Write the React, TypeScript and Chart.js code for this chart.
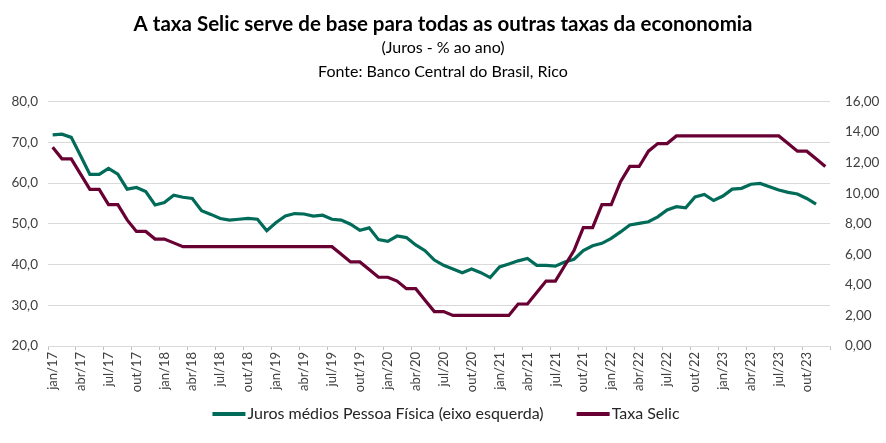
import React, { useEffect, useRef } from 'react';
import { Chart, registerables } from 'chart.js';

Chart.register(...registerables);

const MONTHS = ['jan', 'fev', 'mar', 'abr', 'mai', 'jun', 'jul', 'ago', 'set', 'out', 'nov', 'dez'];
const YEARS = ['17', '18', '19', '20', '21', '22', '23'];
const CATEGORIES = YEARS.flatMap((y) => MONTHS.map((m) => `${m}/${y}`));

const TITLE = 'A taxa Selic serve de base para todas as outras taxas da econonomia';
const SUBTITLE = ['(Juros - % ao ano)', 'Fonte: Banco Central do Brasil, Rico'];

const SERIES_JUROS_LABEL = 'Juros médios Pessoa Física (eixo esquerda)';
const SERIES_SELIC_LABEL = 'Taxa Selic';

// Juros médios Pessoa Física (% a.a., left axis), jan/17 .. nov/23
const JUROS_PF = [
  71.8, 72.0, 71.2, 66.7, 62.1, 62.1, 63.6, 62.2, 58.5, 58.9, 57.9, 54.6,
  55.2, 57.0, 56.5, 56.2, 53.2, 52.3, 51.3, 50.9, 51.1, 51.3, 51.1, 48.3,
  50.3, 51.9, 52.5, 52.4, 51.9, 52.1, 51.1, 50.9, 49.9, 48.4, 49.0, 46.1,
  45.7, 47.0, 46.6, 44.8, 43.4, 41.1, 39.8, 38.9, 38.0, 38.9, 38.0, 36.8,
  39.4, 40.1, 40.9, 41.5, 39.8, 39.8, 39.6, 40.6, 41.3, 43.4, 44.6, 45.2,
  46.4, 48.0, 49.7, 50.1, 50.5, 51.7, 53.4, 54.2, 53.9, 56.6, 57.2, 55.7,
  56.8, 58.5, 58.7, 59.7, 59.9, 59.1, 58.3, 57.7, 57.3, 56.2, 54.8, null,
];

// Taxa Selic (% a.a., right axis), jan/17 .. dez/23
const SELIC = [
  13.0, 12.25, 12.25, 11.25, 10.25, 10.25, 9.25, 9.25, 8.25, 7.5, 7.5, 7.0,
  7.0, 6.75, 6.5, 6.5, 6.5, 6.5, 6.5, 6.5, 6.5, 6.5, 6.5, 6.5,
  6.5, 6.5, 6.5, 6.5, 6.5, 6.5, 6.5, 6.0, 5.5, 5.5, 5.0, 4.5,
  4.5, 4.25, 3.75, 3.75, 3.0, 2.25, 2.25, 2.0, 2.0, 2.0, 2.0, 2.0,
  2.0, 2.0, 2.75, 2.75, 3.5, 4.25, 4.25, 5.25, 6.25, 7.75, 7.75, 9.25,
  9.25, 10.75, 11.75, 11.75, 12.75, 13.25, 13.25, 13.75, 13.75, 13.75, 13.75, 13.75,
  13.75, 13.75, 13.75, 13.75, 13.75, 13.75, 13.75, 13.25, 12.75, 12.75, 12.25, 11.75,
];

const LEFT_MIN = 20;
const LEFT_MAX = 80;
const LEFT_STEP = 10;
const RIGHT_MIN = 0;
const RIGHT_MAX = 16;
const RIGHT_STEP = 2;

const GREEN = '#006B58';
const PURPLE = '#680034';
const FONT = 'Lato, "Open Sans", "DejaVu Sans", sans-serif';

// Excel-style legend: short thick line, tight gap to text, wide gap between entries
const bottomLegend = {
  id: 'bottomLegend',
  afterDraw(chart: any) {
    const ctx = chart.ctx;
    const lineLen = 33;
    const textGap = 2;
    const itemGap = 33;
    ctx.save();
    ctx.font = `16px ${FONT}`;
    const items = chart.data.datasets.map((ds: any) => ({
      text: ds.label as string,
      color: ds.borderColor as string,
    }));
    const widths = items.map((it: any) => lineLen + textGap + ctx.measureText(it.text).width);
    const total = widths.reduce((a: number, b: number) => a + b, 0) + itemGap * (items.length - 1);
    let x = chart.width / 2 + 3 - total / 2;
    const y = chart.chartArea.bottom + 68;
    items.forEach((it: any, i: number) => {
      ctx.strokeStyle = it.color;
      ctx.lineWidth = 4;
      ctx.beginPath();
      ctx.moveTo(x, y);
      ctx.lineTo(x + lineLen, y);
      ctx.stroke();
      ctx.fillStyle = '#262626';
      ctx.textAlign = 'left';
      ctx.textBaseline = 'middle';
      ctx.fillText(it.text, x + lineLen + textGap, y);
      x += widths[i] + itemGap;
    });
    ctx.restore();
  },
};

export default function App() {
  const canvasRef = useRef<HTMLCanvasElement | null>(null);

  useEffect(() => {
    document.body.style.margin = '0';
    const canvas = canvasRef.current;
    if (!canvas) return;
    const chart = new Chart(canvas, {
      type: 'line',
      data: {
        labels: CATEGORIES,
        datasets: [
          {
            label: SERIES_JUROS_LABEL,
            data: JUROS_PF,
            yAxisID: 'y',
            borderColor: GREEN,
            backgroundColor: GREEN,
            borderWidth: 3.2,
            pointRadius: 0,
            tension: 0,
            order: 1,
          },
          {
            label: SERIES_SELIC_LABEL,
            data: SELIC,
            yAxisID: 'y1',
            borderColor: PURPLE,
            backgroundColor: PURPLE,
            borderWidth: 3.2,
            pointRadius: 0,
            tension: 0,
            order: 0,
          },
        ],
      },
      plugins: [bottomLegend],
      options: {
        animation: false,
        responsive: false,
        maintainAspectRatio: false,
        layout: { padding: { left: 0, right: 0, top: 0, bottom: 47 } },
        plugins: {
          title: {
            display: true,
            text: TITLE,
            color: '#000000',
            font: { family: FONT, size: 20.5, weight: 'bold', lineHeight: 1.05 },
            padding: { top: 14, bottom: 0 },
          },
          subtitle: {
            display: true,
            text: SUBTITLE,
            color: '#000000',
            font: { family: FONT, size: 16, lineHeight: 1.5 },
            padding: { top: 0, bottom: 18 },
          },
          legend: { display: false },
          tooltip: { enabled: false },
        },
        scales: {
          x: {
            type: 'category',
            offset: true,
            grid: {
              offset: true,
              drawOnChartArea: false,
              drawTicks: true,
              tickLength: 4,
              color: (ctx: any) =>
                ctx.index === undefined || ctx.index % 3 === 0 ? '#bfbfbf' : 'rgba(0,0,0,0)',
            },
            border: { display: true, color: '#d9d9d9' },
            ticks: {
              autoSkip: false,
              maxRotation: 90,
              minRotation: 90,
              padding: 2,
              color: '#404040',
              font: { family: FONT, size: 13 },
              callback: (_v: any, i: number) => (i % 3 === 0 ? CATEGORIES[i] : ''),
            },
            afterFit: (s: any) => {
              s.height = 50;
            },
          },
          y: {
            position: 'left',
            min: LEFT_MIN,
            max: LEFT_MAX,
            ticks: {
              stepSize: LEFT_STEP,
              padding: 10,
              color: '#404040',
              font: { family: FONT, size: 13.5 },
              callback: (v: any) => Number(v).toFixed(1).replace('.', ','),
            },
            grid: { color: '#d9d9d9', drawTicks: false },
            border: { display: false },
            afterFit: (s: any) => {
              s.width = 48;
            },
          },
          y1: {
            position: 'right',
            min: RIGHT_MIN,
            max: RIGHT_MAX,
            ticks: {
              stepSize: RIGHT_STEP,
              padding: 15,
              color: '#404040',
              font: { family: FONT, size: 13.5 },
              callback: (v: any) => Number(v).toFixed(2).replace('.', ','),
            },
            grid: { display: false, drawTicks: false },
            border: { display: false },
            afterFit: (s: any) => {
              s.width = 56;
            },
          },
        },
      },
    } as any);
    return () => chart.destroy();
  }, []);

  return (
    <div style={{ width: 886, height: 443 }}>
      <canvas ref={canvasRef} width={886} height={443} />
    </div>
  );
}
